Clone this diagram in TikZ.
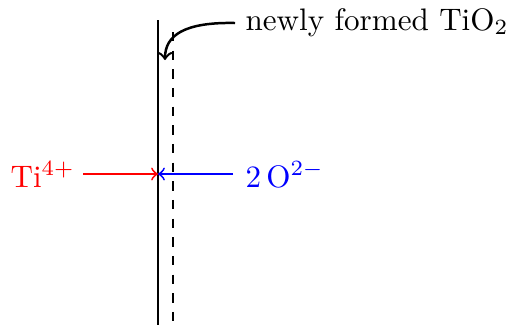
\documentclass[tikz,border=0pt]{standalone}
\usepackage{tikz}
\begin{document}
\begin{tikzpicture}[x=0.3215pt,y=-0.3215pt,
  lbl/.style={inner sep=0pt,anchor=base west},
  flow/.style={->,semithick}]
\useasboundingbox (0,0) rectangle (507,325);
% interfaces
\coordinate (s1) at (158,20);
\coordinate (s2) at (158,325);
\coordinate (d1) at (173,32);
\coordinate (d2) at (173,325);
\draw (s1) -- (s2);
\draw[dashed] (d1) -- (d2);
% label and curved arrow
\node[lbl] (new) at (245,30) {newly formed TiO$_2$};
\coordinate (newstart) at (235,23);
\coordinate (newend) at (165,60);
\draw[->,thick] (newstart) .. controls (185,22) and (165,35) .. (newend);
% ions
\node[lbl,red] (ti) at (10,187) {Ti$^{4+}$};
\node[lbl,blue] (ox) at (245,187) {$2\,\mathrm{O}^{2-}$};
\coordinate (tiend) at (83,174);
\coordinate (oxend) at (233,174);
\coordinate (mid) at (158,174);
\draw[flow,red] (tiend) -- (mid);
\draw[flow,blue] (oxend) -- (mid);
\end{tikzpicture}
\end{document}
